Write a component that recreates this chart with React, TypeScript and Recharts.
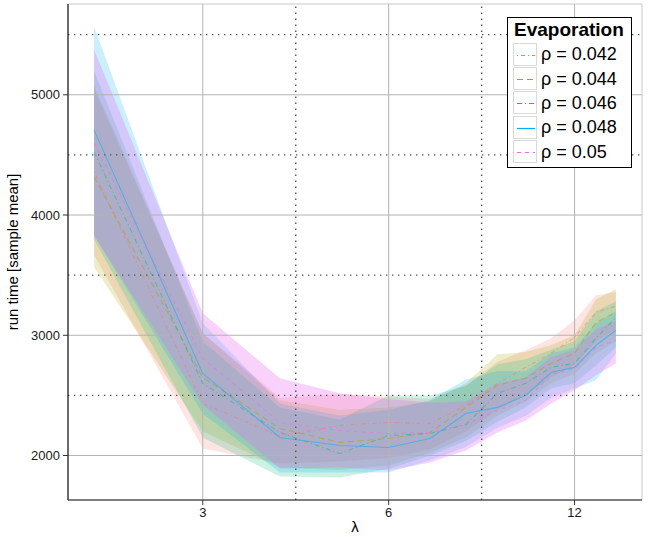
import { ComposedChart, Line, Area, XAxis, YAxis, ReferenceLine, ReferenceArea, Legend } from 'recharts';

// lambda values (x axis, log2 scale)
const lambdas = [2, 3, 4, 5, 6, 7, 8, 9, 10, 11, 12, 13, 14];
const xTicks = [3, 6, 12];
const xMinor = [4.243, 8.485];
const yTicks = [2000, 3000, 4000, 5000];
const yMinor = [2500, 3500, 4500, 5500];

const rhoLabels = ['ρ = 0.042', 'ρ = 0.044', 'ρ = 0.046', 'ρ = 0.048', 'ρ = 0.05'];

// sample means
const mean042 = [4358, 2433, 2160, 2250, 2275, 2267, 2417, 2600, 2733, 2850, 2983, 3192, 3242];
const mean044 = [4317, 2650, 2225, 2108, 2142, 2192, 2400, 2583, 2642, 2767, 2850, 3108, 3192];
const mean046 = [4525, 2600, 2192, 2017, 2167, 2183, 2258, 2517, 2600, 2733, 2767, 2975, 3150];
const mean048 = [4708, 2683, 2150, 2083, 2067, 2142, 2350, 2400, 2500, 2692, 2733, 2917, 3042];
const mean050 = [4600, 2808, 2275, 2208, 2183, 2192, 2258, 2375, 2458, 2675, 2725, 2900, 2958];

// ribbon lower bounds
const lo042 = [3667, 2058, 1933, 1950, 1980, 2050, 2200, 2380, 2500, 2650, 2750, 2950, 3050];
const lo044 = [3567, 2200, 1900, 1880, 1920, 2020, 2150, 2330, 2450, 2600, 2680, 2850, 2950];
const lo046 = [3800, 2150, 1825, 1817, 1890, 2000, 2120, 2280, 2400, 2560, 2600, 2750, 2900];
const lo048 = [3830, 2350, 1858, 1858, 1858, 1960, 2070, 2230, 2330, 2480, 2560, 2625, 2850];
const lo050 = [3830, 2420, 1892, 1900, 1875, 1942, 2042, 2192, 2292, 2433, 2542, 2667, 2767];

// ribbon upper bounds
const hi042 = [5080, 3017, 2480, 2510, 2490, 2470, 2580, 2780, 2875, 2975, 3125, 3333, 3360];
const hi044 = [5050, 3017, 2460, 2380, 2400, 2450, 2600, 2842, 2860, 2920, 3000, 3300, 3383];
const hi046 = [5200, 2950, 2400, 2300, 2500, 2500, 2580, 2760, 2800, 2880, 2950, 3200, 3280];
const hi048 = [5567, 3100, 2433, 2333, 2380, 2460, 2633, 2700, 2700, 2850, 2900, 3100, 3200];
const hi050 = [5375, 3183, 2642, 2517, 2470, 2440, 2450, 2600, 2650, 2820, 2880, 3050, 3120];

const means = [mean042, mean044, mean046, mean048, mean050];
const lows = [lo042, lo044, lo046, lo048, lo050];
const highs = [hi042, hi044, hi046, hi048, hi050];

const colors = ['#F8766D', '#A3A500', '#00BF7D', '#00B0F6', '#E76BF3'];
const ribbonAlpha = [0.2, 0.2, 0.2, 0.2, 0.3];
const dashes = ['1 3 4 3', '6 4', '5 3 1 3', undefined, '4 4'];

const rows = lambdas.map((l, i) => {
  const row: any = { lambda: l };
  means.forEach((m, s) => {
    row['m' + s] = m[i];
    row['r' + s] = [lows[s][i], highs[s][i]];
  });
  return row;
});

const font = '"Liberation Sans", Arial, Helvetica, sans-serif';

function EvapLegend() {
  return (
    <div
      style={{
        width: 123,
        height: 149,
        border: '1.5px solid #000',
        background: '#fff',
        fontFamily: font,
        boxSizing: 'content-box',
      }}
    >
      <div style={{ fontWeight: 'bold', fontSize: 19, lineHeight: '24px', paddingLeft: 6 }}>Evaporation</div>
      {rhoLabels.map((label, s) => (
        <div key={label} style={{ display: 'flex', alignItems: 'center', height: 24.4 }}>
          <svg width={24} height={23} style={{ marginLeft: 5, border: '1px solid #d9d9d9', boxSizing: 'border-box' }}>
            <line x1={3} x2={21} y1={11.5} y2={11.5} stroke={colors[s]} strokeWidth={1.2} strokeDasharray={dashes[s]} />
          </svg>
          <span style={{ fontSize: 18, marginLeft: 4, lineHeight: '20px' }}>{label}</span>
        </div>
      ))}
    </div>
  );
}

export default function App() {
  return (
    <div style={{ position: 'absolute', left: 0, top: 0, width: 650, height: 537, background: '#fff' }}>
      <ComposedChart
        width={650}
        height={537}
        data={rows}
        margin={{ top: 4, right: 8, left: 0, bottom: 0 }}
      >
        <ReferenceArea
          x1={1.815}
          x2={15.43}
          y1={1630}
          y2={5755}
          fill="none"
          stroke="#c8c8c8"
          ifOverflow="visible"
        />
        {xTicks.map((t) => (
          <ReferenceLine key={'xv' + t} x={t} stroke="#b3b3b3" strokeWidth={1} />
        ))}
        {yTicks.map((t) => (
          <ReferenceLine key={'yh' + t} y={t} stroke="#b3b3b3" strokeWidth={1} />
        ))}
        {xMinor.map((t) => (
          <ReferenceLine key={'xm' + t} x={t} stroke="#555" strokeWidth={1.4} strokeDasharray="1.4 4.6" />
        ))}
        {yMinor.map((t) => (
          <ReferenceLine key={'ym' + t} y={t} stroke="#555" strokeWidth={1.4} strokeDasharray="1.4 4.6" />
        ))}
        <XAxis
          dataKey="lambda"
          type="number"
          scale="log"
          domain={[1.815, 15.43]}
          ticks={xTicks}
          allowDataOverflow
          height={37}
          tickSize={5}
          tickMargin={3}
          axisLine={{ stroke: '#1a1a1a', strokeWidth: 1.2 }}
          tickLine={{ stroke: '#333' }}
          tick={{ fill: '#1a1a1a', fontSize: 13, fontFamily: font }}
          label={{ value: 'λ', position: 'insideBottom', offset: 5, fill: '#000', fontSize: 15, fontFamily: font }}
        />
        <YAxis
          type="number"
          domain={[1630, 5755]}
          ticks={yTicks}
          allowDataOverflow
          width={68}
          tickSize={5}
          tickMargin={3}
          axisLine={{ stroke: '#1a1a1a', strokeWidth: 1.2 }}
          tickLine={{ stroke: '#333' }}
          tick={{ fill: '#1a1a1a', fontSize: 13, fontFamily: font }}
          label={{
            value: 'run time [sample mean]',
            angle: -90,
            position: 'insideLeft',
            offset: 13,
            fill: '#000',
            fontSize: 15,
            fontFamily: font,
            style: { textAnchor: 'middle' },
          }}
        />
        {colors.map((c, s) => (
          <Area
            key={'a' + s}
            type="linear"
            dataKey={'r' + s}
            stroke="none"
            fill={c}
            fillOpacity={ribbonAlpha[s]}
            isAnimationActive={false}
          />
        ))}
        {colors.map((c, s) => (
          <Line
            key={'l' + s}
            type="linear"
            dataKey={'m' + s}
            stroke={c}
            strokeOpacity={0.5}
            strokeWidth={1.1}
            strokeDasharray={dashes[s]}
            dot={false}
            isAnimationActive={false}
          />
        ))}
        <Legend
          layout="vertical"
          align="center"
          verticalAlign="middle"
          content={() => <EvapLegend />}
          wrapperStyle={{ left: 507, top: 17, width: 126 }}
        />
      </ComposedChart>
    </div>
  );
}
